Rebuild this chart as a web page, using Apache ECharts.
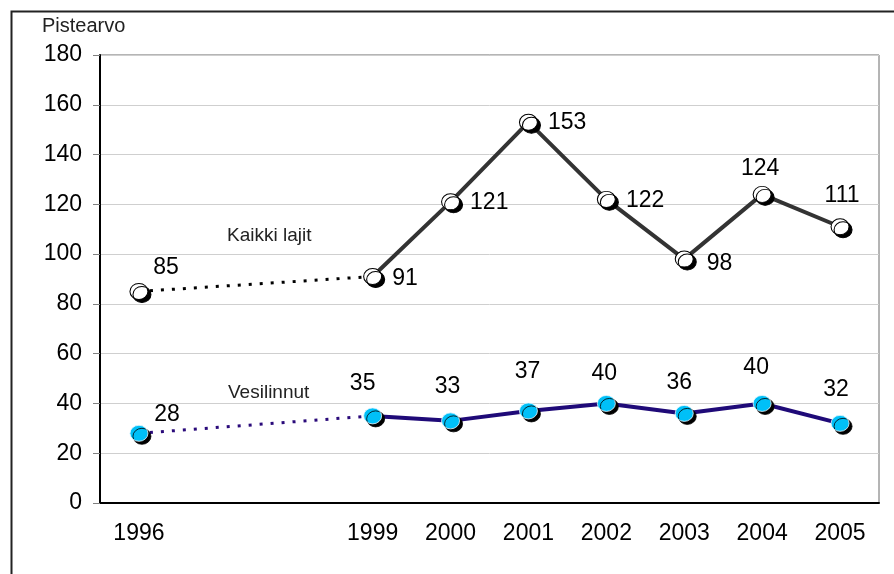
<!DOCTYPE html>
<html>
<head>
<meta charset="utf-8">
<script src="https://cdn.jsdelivr.net/npm/echarts@6/dist/echarts.min.js"></script>
<style>html,body{margin:0;padding:0;background:#fff}#c{width:894px;height:574px}</style>
</head>
<body>
<div id="c"></div>
<script>
var years = [1996, 1999, 2000, 2001, 2002, 2003, 2004, 2005];
var kaikkiLajit = [85, 91, 121, 153, 122, 98, 124, 111];
var vesilinnut = [28, 35, 33, 37, 40, 36, 40, 32];
var yTicks = [0, 20, 40, 60, 80, 100, 120, 140, 160, 180];

// label placement per point: [position, dx, dy]
var kaikkiLabelPos = [['top', 27, -3], ['right', 0, 2], ['right', 0, 1], ['right', 0, 0], ['right', 0, 1], ['right', 3, 5], ['top', -2, -5], ['top', 2, -10]];
var vesiLabelPos = [['top', 28, 2], ['top', -10, -11], ['top', -3, -13], ['top', -1, -18], ['top', -2, -9], ['top', -5, -10], ['top', -6, -15], ['top', -4, -13]];

var FONT = '"Liberation Sans", Arial, sans-serif';
var FS = 23;
var shadowItem = {shadowColor: '#000', shadowOffsetX: 3, shadowOffsetY: 3, shadowBlur: 0};

function pts(vals, labelPos) {
  return years.map(function (y, i) {
    var lp = labelPos[i];
    return {
      value: [y, vals[i]],
      label: {position: lp[0], offset: [lp[1], lp[2]], distance: lp[0] === 'right' ? 10 : 1}
    };
  });
}

var chart = echarts.init(document.getElementById('c'));
chart.setOption({
  animation: false,
  backgroundColor: '#fff',
  grid: {left: 100, right: 15, top: 55, bottom: 71, show: true, borderColor: '#6a6a6a', borderWidth: 1},
  xAxis: {
    type: 'value', min: 1995.5, max: 2005.5,
    axisLine: {lineStyle: {color: '#000', width: 2}},
    axisTick: {show: false},
    splitLine: {show: false},
    axisLabel: {customValues: years, margin: 19, color: '#000', fontFamily: FONT, fontSize: FS, formatter: function (v) { return String(v); }}
  },
  yAxis: {
    type: 'value', min: 0, max: 180, interval: 20,
    name: 'Pistearvo', nameLocation: 'end', nameGap: 19,
    nameTextStyle: {align: 'left', padding: [0, 0, 0, -58], color: '#222', fontFamily: FONT, fontSize: 20},
    axisLine: {show: true, lineStyle: {color: '#000', width: 2}},
    axisTick: {show: true, length: 7, lineStyle: {color: '#808080'}},
    splitLine: {lineStyle: {color: '#cfcfcf', width: 1}},
    axisLabel: {margin: 18, color: '#000', fontFamily: FONT, fontSize: FS}
  },
  graphic: [
    {type: 'rect', left: 9, top: 9, shape: {width: 1000, height: 1000}, style: {fill: 'none', stroke: '#222', lineWidth: 2}, z: -10},
    {type: 'text', left: 227, top: 226, style: {text: 'Kaikki lajit', fill: '#222', font: '19px ' + FONT}, z: 50},
    {type: 'text', left: 228, top: 383, style: {text: 'Vesilinnut', fill: '#222', font: '19px ' + FONT}, z: 50}
  ],
  series: [
    {
      type: 'line', z: 2,
      data: [[years[0], kaikkiLajit[0]], [years[1], kaikkiLajit[1]]],
      symbol: 'none', silent: true,
      lineStyle: {color: '#000', width: 3, type: [3, 8]}
    },
    {
      type: 'line', z: 2,
      data: [[years[0], vesilinnut[0]], [years[1], vesilinnut[1]]],
      symbol: 'none', silent: true,
      lineStyle: {color: '#2a0a7a', width: 3, type: [3, 8]}
    },
    {
      type: 'line', z: 3,
      data: pts(kaikkiLajit, kaikkiLabelPos).slice(1),
      symbol: 'circle', symbolSize: [18, 16],
      lineStyle: {color: '#333', width: 4},
      itemStyle: Object.assign({color: '#fff', borderColor: '#000', borderWidth: 1}, shadowItem),
      label: {show: true, color: '#000', fontFamily: FONT, fontSize: FS, formatter: function (p) { return p.value[1]; }}
    },
    {
      type: 'line', z: 3,
      data: pts(kaikkiLajit, kaikkiLabelPos).slice(0, 1),
      symbol: 'circle', symbolSize: [18, 16],
      lineStyle: {width: 0},
      itemStyle: Object.assign({color: '#fff', borderColor: '#000', borderWidth: 1}, shadowItem),
      label: {show: true, color: '#000', fontFamily: FONT, fontSize: FS, formatter: function (p) { return p.value[1]; }}
    },
    {
      type: 'line', z: 3,
      data: pts(vesilinnut, vesiLabelPos).slice(1),
      symbol: 'circle', symbolSize: [18, 16],
      lineStyle: {color: '#1f0a78', width: 4},
      itemStyle: Object.assign({color: '#00c0f8', borderColor: '#e8f8ff', borderWidth: 0.8}, shadowItem),
      label: {show: true, color: '#000', fontFamily: FONT, fontSize: FS, formatter: function (p) { return p.value[1]; }}
    },
    {
      type: 'line', z: 3,
      data: pts(vesilinnut, vesiLabelPos).slice(0, 1),
      symbol: 'circle', symbolSize: [18, 16],
      lineStyle: {width: 0},
      itemStyle: Object.assign({color: '#00c0f8', borderColor: '#e8f8ff', borderWidth: 0.8}, shadowItem),
      label: {show: true, color: '#000', fontFamily: FONT, fontSize: FS, formatter: function (p) { return p.value[1]; }}
    }
  ]
});
</script>
</body>
</html>
